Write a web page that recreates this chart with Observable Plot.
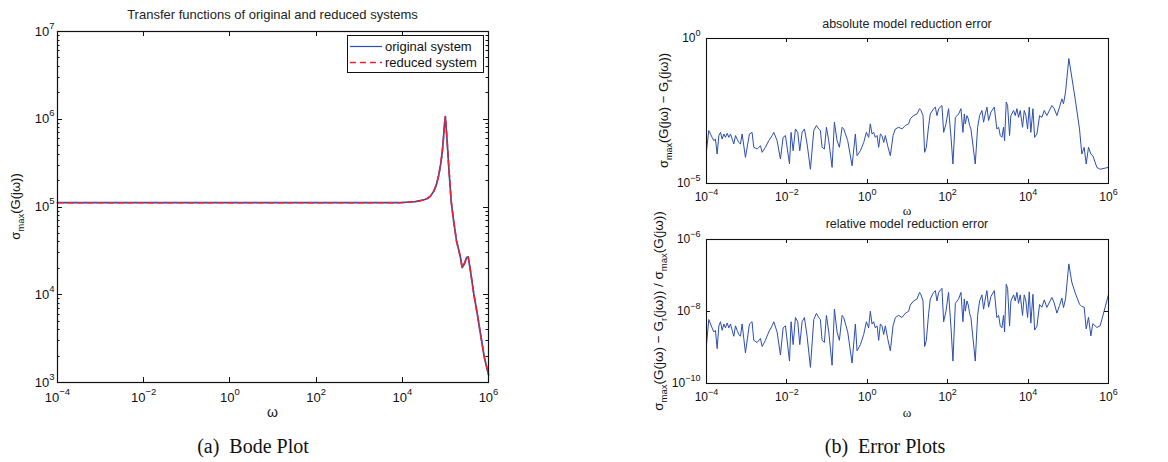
<!DOCTYPE html>
<html><head><meta charset="utf-8">
<script src="https://cdn.jsdelivr.net/npm/d3@7"></script>
<script src="https://cdn.jsdelivr.net/npm/@observablehq/plot@0.6"></script>
<style>
html,body{margin:0;padding:0;background:#fff}
body{width:1168px;height:462px;position:relative;overflow:hidden;font-family:"Liberation Sans",Arial,sans-serif}
.panel{position:absolute}
</style></head>
<body>
<div id="pa" class="panel" style="left:0;top:0"></div>
<div id="pb" class="panel" style="left:600px;top:0"></div>
<div id="pc" class="panel" style="left:600px;top:200px"></div>
<script>
// ---------- data ----------
const bodeOmega = [1e-4, 1e-3, 1e-2, 1e-1, 1, 10, 100, 1e3, 3.2e3, 9.1e3,
  1.5e4, 2.0e4, 2.6e4, 3.2e4, 3.8e4, 4.5e4, 5.4e4, 6.2e4, 7.0e4, 7.7e4, 8.4e4, 9.0e4, 9.5e4, 1.0e5,
  1.1e5, 1.2e5, 1.36e5, 1.55e5, 1.81e5, 2.05e5, 2.24e5, 2.45e5, 2.8e5, 3.1e5, 3.38e5, 3.8e5, 4.56e5, 5.5e5, 6.52e5, 8.0e5, 1.0e6];
const bodeOriginal = [1.12e5, 1.12e5, 1.12e5, 1.12e5, 1.12e5, 1.12e5, 1.12e5, 1.12e5, 1.12e5, 1.12e5,
  1.14e5, 1.15e5, 1.18e5, 1.21e5, 1.25e5, 1.33e5, 1.52e5, 1.8e5, 2.3e5, 3.0e5, 4.1e5, 6.0e5, 8.7e5, 1.07e6,
  5.5e5, 2.8e5, 1.17e5, 7.0e4, 4.1e4, 3.2e4, 2.65e4, 2.04e4, 2.3e4, 2.65e4, 2.7e4, 1.9e4, 1.02e4, 6.0e3, 3.57e3, 1.94e3, 1.23e3];
const bodeReduced = [1.12e5, 1.12e5, 1.12e5, 1.12e5, 1.12e5, 1.12e5, 1.12e5, 1.12e5, 1.12e5, 1.12e5,
  1.14e5, 1.15e5, 1.18e5, 1.21e5, 1.25e5, 1.33e5, 1.52e5, 1.8e5, 2.3e5, 3.0e5, 4.1e5, 6.0e5, 8.7e5, 1.07e6,
  5.5e5, 2.8e5, 1.17e5, 7.0e4, 4.1e4, 3.2e4, 2.65e4, 2.04e4, 2.3e4, 2.65e4, 2.7e4, 1.9e4, 1.02e4, 6.0e3, 3.57e3, 1.94e3, 1.23e3];

const errOmega = [1.00e-4,1.14e-4,1.38e-4,1.52e-4,1.67e-4,1.84e-4,2.03e-4,2.23e-4,2.45e-4,2.70e-4,
2.96e-4,3.27e-4,3.59e-4,3.95e-4,4.35e-4,4.78e-4,5.26e-4,5.78e-4,6.37e-4,7.00e-4,
7.69e-4,9.31e-4,1.17e-3,1.36e-3,1.50e-3,1.82e-3,2.20e-3,2.42e-3,2.92e-3,3.54e-3,
4.29e-3,4.72e-3,5.70e-3,6.90e-3,8.05e-3,9.20e-3,1.16e-2,1.27e-2,1.43e-2,1.63e-2,
1.86e-2,2.09e-2,2.39e-2,2.73e-2,3.18e-2,3.85e-2,4.66e-2,5.42e-2,6.19e-2,6.81e-2,
7.50e-2,8.57e-2,9.62e-2,0.110,0.133,0.152,0.177,0.202,0.236,0.259,
0.326,0.418,0.505,0.556,0.673,0.815,0.948,1.08,1.19,1.31,
1.44,1.58,1.75,1.92,2.11,2.32,2.56,2.81,3.21,3.74,
4.37,4.99,6.03,7.29,8.83,10.7,11.7,14.2,17.2,20.0,
21.7,24.3,26.7,29.4,33.6,36.9,44.7,49.2,54.1,59.6,
71.9,79.3,90.6,105,121,135,155,187,214,239,
259,274,301,325,351,378,485,555,622,711,
782,859,946,1040,1190,1440,1670,1850,2030,2230,
2450,2600,2860,3090,3460,3730,4360,4790,5270,5790,
6370,7280,8020,8810,9700,1.07e4,1.17e4,1.32e4,1.45e4,1.66e4,
1.93e4,2.20e4,2.52e4,2.93e4,3.90e4,4.47e4,5.20e4,6.05e4,6.92e4,7.60e4,
8.53e4,1.03e5,1.22e5,1.48e5,1.90e5,2.17e5,2.48e5,2.79e5,3.18e5,3.64e5,
4.08e5,5.13e5,6.21e5,1.00e6];

const absError = [1.35e-4,6.7e-4,3.9e-4,3.0e-4,3.4e-4,1.04e-4,4.5e-4,5.8e-4,3.4e-4,5.1e-4,
3.9e-4,5.4e-4,3.9e-4,5.1e-4,3.4e-4,2.3e-4,4.5e-4,3.4e-4,2.6e-4,2.3e-4,
5.1e-4,8.0e-5,5.1e-4,5.8e-4,1.77e-4,1.55e-4,2.0e-4,1.19e-4,1.77e-4,3.0e-4,
4.5e-4,5.8e-4,3.0e-4,7.0e-5,3.9e-4,4.5e-4,4.7e-5,5.8e-4,1.35e-4,7.6e-4,
5.8e-4,1.35e-4,5.8e-4,7.6e-4,2.3e-4,3.1e-5,6.7e-4,1.0e-3,7.6e-4,6.7e-4,
1.77e-4,1.55e-4,8.7e-4,3.0e-4,3.6e-5,1.3e-3,3.0e-4,1.77e-4,8.7e-4,7.6e-4,
3.0e-4,4.1e-5,5.1e-4,9.1e-5,1.35e-4,2.6e-4,5.8e-4,3.9e-4,1.14e-3,5.1e-4,
5.8e-4,3.9e-4,4.5e-4,1.77e-4,5.1e-4,4.5e-4,2.6e-4,4.5e-4,2.0e-4,9.1e-5,
4.5e-4,7.6e-4,8.7e-4,7.6e-4,1.0e-3,1.14e-3,1.7e-3,2.2e-3,2.5e-3,3.8e-3,
3.3e-3,2.2e-3,1.19e-4,1.77e-4,1.0e-3,2.5e-3,3.8e-3,4.3e-3,2.2e-3,3.8e-3,
4.9e-3,5.8e-4,1.14e-3,3.8e-3,3.9e-4,4.7e-5,1.9e-3,2.5e-3,3.8e-3,5.8e-4,
2.5e-3,1.14e-3,2.2e-3,1.7e-3,1.0e-3,7.6e-4,4.7e-5,8.7e-4,2.2e-3,3.3e-3,
1.3e-3,2.5e-3,4.3e-3,1.48e-3,2.9e-3,4.3e-3,7.6e-4,8.7e-4,4.5e-4,3.9e-4,
8.7e-4,3.0e-4,6.4e-3,4.9e-3,4.5e-4,2.2e-3,3.3e-3,2.2e-3,3.8e-3,1.9e-3,
3.3e-3,8.7e-4,3.3e-3,2.2e-3,7.6e-4,4.3e-3,5.8e-4,3.8e-3,3.9e-4,5.1e-4,
2.2e-3,1.9e-3,3.3e-3,2.2e-3,4.9e-3,3.8e-3,2.2e-3,4.3e-3,8.3e-3,5.6e-3,
1.42e-2,0.203,4.7e-2,8.3e-3,7.6e-4,1.04e-4,1.77e-4,4.7e-5,1.77e-4,1.04e-4,
9.1e-5,3.6e-5,3.1e-5,3.6e-5];

const relError = [1.20e-9,6.0e-9,3.5e-9,2.7e-9,3.0e-9,9.3e-10,4.0e-9,5.2e-9,3.0e-9,4.5e-9,
3.5e-9,4.8e-9,3.5e-9,4.5e-9,3.0e-9,2.05e-9,4.0e-9,3.0e-9,2.3e-9,2.05e-9,
4.5e-9,7.1e-10,4.5e-9,5.2e-9,1.58e-9,1.38e-9,1.78e-9,1.06e-9,1.58e-9,2.7e-9,
4.0e-9,5.2e-9,2.7e-9,6.2e-10,3.5e-9,4.0e-9,4.2e-10,5.2e-9,1.20e-9,6.8e-9,
5.2e-9,1.20e-9,5.2e-9,6.8e-9,2.05e-9,2.8e-10,6.0e-9,8.9e-9,6.8e-9,6.0e-9,
1.58e-9,1.38e-9,7.8e-9,2.7e-9,3.2e-10,1.16e-8,2.7e-9,1.58e-9,7.8e-9,6.8e-9,
2.7e-9,3.7e-10,4.5e-9,8.1e-10,1.20e-9,2.3e-9,5.2e-9,3.5e-9,1.02e-8,4.5e-9,
5.2e-9,3.5e-9,4.0e-9,1.58e-9,4.5e-9,4.0e-9,2.3e-9,4.0e-9,1.78e-9,8.1e-10,
4.0e-9,6.8e-9,7.8e-9,6.8e-9,8.9e-9,1.02e-8,1.51e-8,1.96e-8,2.23e-8,3.4e-8,
2.9e-8,1.96e-8,1.06e-9,1.58e-9,8.9e-9,2.23e-8,3.4e-8,3.8e-8,1.96e-8,3.4e-8,
4.4e-8,5.2e-9,1.02e-8,3.4e-8,3.5e-9,4.2e-10,1.69e-8,2.23e-8,3.4e-8,5.2e-9,
2.23e-8,1.02e-8,1.96e-8,1.51e-8,8.9e-9,6.8e-9,4.2e-10,7.8e-9,1.96e-8,2.9e-8,
1.16e-8,2.23e-8,3.8e-8,1.32e-8,2.6e-8,3.8e-8,6.8e-9,7.8e-9,4.0e-9,3.5e-9,
7.8e-9,2.7e-9,5.7e-8,4.4e-8,4.0e-9,1.96e-8,2.9e-8,1.96e-8,3.4e-8,1.69e-8,
2.9e-8,7.8e-9,2.9e-8,1.96e-8,6.8e-9,3.5e-8,4.75e-9,3.0e-8,3.05e-9,3.9e-9,
1.56e-8,1.31e-8,2.1e-8,1.30e-8,2.46e-8,1.72e-8,9.0e-9,1.46e-8,2.35e-8,1.28e-8,
2.25e-8,2.1e-7,6.6e-8,3.3e-8,1.6e-8,1.38e-8,1.32e-8,3.3e-9,6.9e-9,2.1e-9,
4.6e-9,3.6e-9,4.0e-9,2.95e-8];

const xTickValues = [1e-4, 1e-2, 1, 1e2, 1e4, 1e6];
const bodeYTicks = [1e3, 1e4, 1e5, 1e6, 1e7];
const absYTicks = [1e-5, 1];
const relYTicks = [1e-10, 1e-8, 1e-6];
const seriesNames = ["original system", "reduced system"];

// ---------- helpers ----------
const blue = "#2c4eb0", red = "#f2222c", ink = "#111";
const bode = bodeOmega.map((w, i) => ({w, orig: bodeOriginal[i], red: bodeReduced[i]}));
const errs = errOmega.map((w, i) => ({w, abs: absError[i], rel: relError[i]}));
const fmtPow = d => "10^" + String(Math.round(Math.log10(d))).replace("-", "\u2212");

function supify(svg, expSize, raise) {
  d3.select(svg).selectAll("text").each(function () {
    const m = /^10\^(.+)$/.exec(this.textContent);
    if (!m) return;
    const s = d3.select(this);
    s.text("10");
    s.append("tspan").attr("dy", -raise).attr("font-size", expSize).text(m[1]);
  });
}
function rich(sel, parts, subSize, shift) {
  let cur = 0;
  for (const p of parts) {
    const target = p.sub ? shift : 0;
    const ts = sel.append("tspan").attr("dy", target - cur).text(p.t);
    if (p.sub) ts.attr("font-size", subSize);
    cur = target;
  }
}
function innerTicks(plot, xs, ys, yMinor, len, minorLen) {
  const sx = plot.scale("x"), sy = plot.scale("y");
  const [xa, xb] = sx.range, [ya, yb] = sy.range;
  const g = d3.select(plot).append("g").attr("stroke", ink).attr("stroke-width", 1).attr("fill", "none");
  const line = (x1, y1, x2, y2) => g.append("line").attr("x1", x1).attr("y1", y1).attr("x2", x2).attr("y2", y2);
  for (const v of xs) {
    const x = Math.round(sx.apply(v)) + 0.5;
    line(x, ya, x, ya - len); line(x, yb, x, yb + len);
  }
  for (const v of ys) {
    const y = Math.round(sy.apply(v)) + 0.5;
    line(xa, y, xa + len, y); line(xb, y, xb - len, y);
  }
  for (const v of yMinor) {
    const y = Math.round(sy.apply(v)) + 0.5;
    line(xa, y, xa + minorLen, y); line(xb, y, xb - minorLen, y);
  }
}
function addText(plot, x, y, str, opts = {}) {
  const t = d3.select(plot).append("text").attr("x", x).attr("y", y)
    .attr("text-anchor", opts.anchor || "middle").attr("fill", opts.fill || ink)
    .attr("font-size", opts.size || 13).attr("font-family", opts.family || "Liberation Sans, Arial, sans-serif");
  if (opts.rotate) t.attr("transform", `rotate(-90 ${x} ${y})`);
  if (typeof str === "string") t.text(str); else rich(t, str, opts.subSize || 9, opts.shift || 3);
  return t;
}
const baseStyle = size => ({fontFamily: "Liberation Sans, Arial, sans-serif", fontSize: size + "px", color: ink, background: "none", overflow: "visible"});

// ---------- (a) Bode plot ----------
const pa = Plot.plot({
  width: 540, height: 462,
  marginLeft: 57, marginRight: 52, marginTop: 31, marginBottom: 80,
  x: {type: "log", domain: [1e-4, 1e6]},
  y: {type: "log", domain: [1e3, 1e7]},
  style: baseStyle(13),
  marks: [
    Plot.line(bode, {x: "w", y: "orig", stroke: blue, strokeWidth: 1.7}),
    Plot.line(bode, {x: "w", y: "red", stroke: red, strokeWidth: 1.6, strokeDasharray: "6,4"}),
    Plot.axisX({ticks: xTickValues, tickSize: 0, tickPadding: 10, tickFormat: fmtPow, label: null}),
    Plot.axisY({ticks: bodeYTicks, tickSize: 0, tickPadding: 3, tickFormat: fmtPow, label: null}),
    Plot.frame({stroke: ink, strokeWidth: 1.2})
  ]
});
supify(pa, 9.5, 7);
const minorA = [];
for (const dec of [1e3, 1e4, 1e5, 1e6]) for (const k of [2,3,4,5,6,7,8,9]) minorA.push(dec * k);
innerTicks(pa, xTickValues, bodeYTicks, minorA, 5, 2.5);
addText(pa, 272.5, 19, "Transfer functions of original and reduced systems", {size: 13, fill: "#222"});
addText(pa, 272.5, 417, "\u03c9", {size: 14});
addText(pa, 20, 206.5, [{t: "\u03c3"}, {t: "max", sub: true}, {t: "(G(j\u03c9))"}], {rotate: true, size: 13, subSize: 9.5, shift: 3.5});
// legend
const lg = d3.select(pa).append("g");
lg.append("rect").attr("x", 347.5).attr("y", 35.5).attr("width", 136).attr("height", 37).attr("fill", "white").attr("stroke", ink).attr("stroke-width", 1);
lg.append("line").attr("x1", 350).attr("x2", 382).attr("y1", 46.5).attr("y2", 46.5).attr("stroke", blue).attr("stroke-width", 1.2);
lg.append("line").attr("x1", 350).attr("x2", 382).attr("y1", 62.5).attr("y2", 62.5).attr("stroke", red).attr("stroke-width", 1.4).attr("stroke-dasharray", "6,4");
addText(pa, 385, 51, seriesNames[0], {anchor: "start", size: 13});
addText(pa, 385, 67, seriesNames[1], {anchor: "start", size: 13});
addText(pa, 253, 453, "(a)\u2002Bode Plot", {size: 20, family: "Liberation Serif, Times New Roman, serif"});
document.getElementById("pa").append(pa);

// ---------- (b) absolute error ----------
const pb = Plot.plot({
  width: 568, height: 230,
  marginLeft: 106, marginRight: 60, marginTop: 38, marginBottom: 47,
  x: {type: "log", domain: [1e-4, 1e6]},
  y: {type: "log", domain: [1e-5, 1]},
  style: baseStyle(12),
  marks: [
    Plot.line(errs, {x: "w", y: "abs", stroke: blue, strokeWidth: 1}),
    Plot.axisX({ticks: xTickValues, tickSize: 0, tickPadding: 9, tickFormat: fmtPow, label: null}),
    Plot.axisY({ticks: absYTicks, tickSize: 0, tickPadding: 6, tickFormat: fmtPow, label: null}),
    Plot.frame({stroke: ink, strokeWidth: 1.1})
  ]
});
supify(pb, 9, 6);
innerTicks(pb, xTickValues, absYTicks, [], 4, 2);
addText(pb, 307, 28, "absolute model reduction error", {size: 12.5, fill: "#222"});
addText(pb, 307, 215, "\u03c9", {size: 13, family: "Liberation Serif, serif"});
addText(pb, 68, 110.5, [{t: "\u03c3"}, {t: "max", sub: true}, {t: "(G(j\u03c9) \u2212 G"}, {t: "r", sub: true}, {t: "(j\u03c9))"}], {rotate: true, size: 13, subSize: 9, shift: 3.5});
document.getElementById("pb").append(pb);

// ---------- (b) relative error ----------
const pc = Plot.plot({
  width: 568, height: 262,
  marginLeft: 106, marginRight: 60, marginTop: 39, marginBottom: 79,
  x: {type: "log", domain: [1e-4, 1e6]},
  y: {type: "log", domain: [1e-10, 1e-6]},
  style: baseStyle(12),
  marks: [
    Plot.line(errs, {x: "w", y: "rel", stroke: blue, strokeWidth: 1}),
    Plot.axisX({ticks: xTickValues, tickSize: 0, tickPadding: 9, tickFormat: fmtPow, label: null}),
    Plot.axisY({ticks: relYTicks, tickSize: 0, tickPadding: 6, tickFormat: fmtPow, label: null}),
    Plot.frame({stroke: ink, strokeWidth: 1.1})
  ]
});
supify(pc, 9, 6);
innerTicks(pc, xTickValues, relYTicks, [], 4, 2);
addText(pc, 307, 28, "relative model reduction error", {size: 12.5, fill: "#222"});
addText(pc, 307, 217, "\u03c9", {size: 13, family: "Liberation Serif, serif"});
addText(pc, 63, 111, [{t: "\u03c3"}, {t: "max", sub: true}, {t: "(G(j\u03c9) \u2212 G"}, {t: "r", sub: true}, {t: "(j\u03c9)) / \u03c3"}, {t: "max", sub: true}, {t: "(G(j\u03c9))"}], {rotate: true, size: 13.5, subSize: 9.5, shift: 3.5});
addText(pc, 285, 253, "(b)\u2002Error Plots", {size: 20, family: "Liberation Serif, Times New Roman, serif"});
document.getElementById("pc").append(pc);
</script>
</body></html>
